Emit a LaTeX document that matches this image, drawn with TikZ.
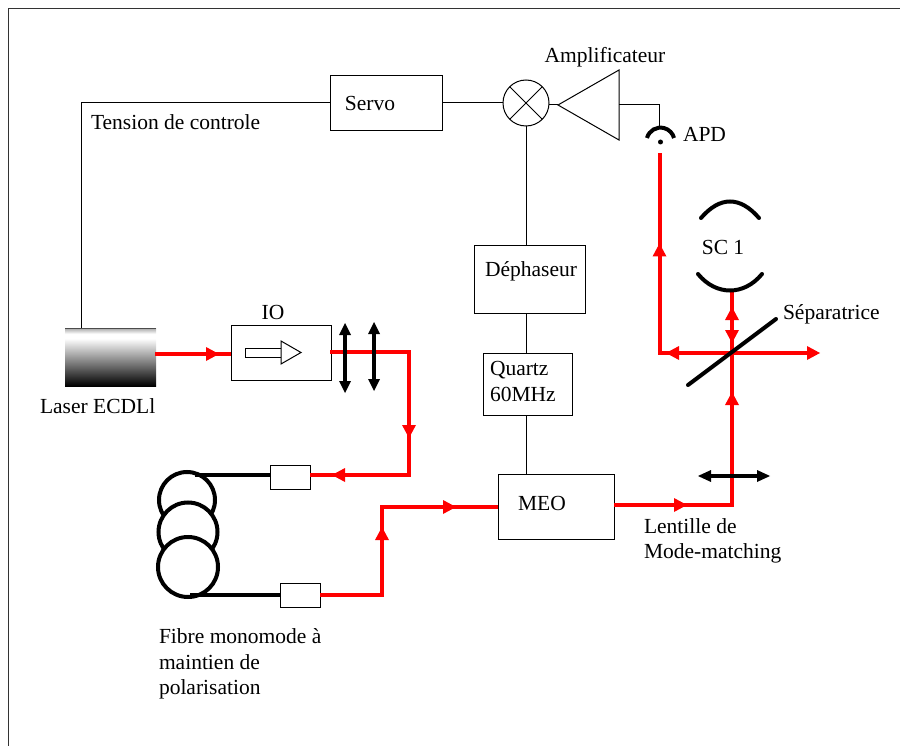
\documentclass[tikz,border=0pt]{standalone}
\usepackage{fontspec}
\setmainfont{Liberation Serif}
\usetikzlibrary{decorations.markings}
\pgfdeclareverticalshading{lasershade}{100bp}{color(0bp)=(black); color(25bp)=(black); color(66bp)=(white); color(70bp)=(white); color(75bp)=(black!35); color(100bp)=(black!35)}
\tikzset{
  x=1pt,y=-1pt,
  thin line/.style={draw=black,line width=1pt},
  boxnode/.style={draw=black,line width=1pt,fill=white,inner sep=0pt,outer sep=0pt,rectangle},
  lbl/.style={inner sep=0pt,outer sep=0pt,font=\fontsize{21.5}{25.2}\selectfont},
  lblleft/.style={lbl,anchor=west,align=left},
  beam/.style={draw=red,line width=4pt,line join=miter,line cap=butt},
  fibre/.style={draw=black,line width=4pt},
  tipat/.style={postaction={decorate,decoration={markings,mark=at position #1 with {\fill[red] (1,0) -- (-12,-7) -- (-12,7) -- cycle;}}}},
  lens/.style={draw=black,line width=3.5pt,shorten <=4pt,shorten >=4pt},
  mirror/.style={draw=black,line width=4pt,line cap=round},
}
\begin{document}
\begin{tikzpicture}
\useasboundingbox (0,0) rectangle (900,746);
% frame
\coordinate (fa) at (8,746); \coordinate (fb) at (8,9); \coordinate (fc) at (900,9);
\draw[line width=1pt,black!80] (fa) -- (fb) -- (fc);

% boxes
\node[boxnode,minimum width=112pt,minimum height=55pt] (servo) at (386,103.5) {};
\node[boxnode,minimum width=111pt,minimum height=67pt] (dephaseur) at (529.5,279.5) {};
\node[boxnode,minimum width=89pt,minimum height=62pt] (quartz) at (527.5,384) {};
\node[boxnode,minimum width=116pt,minimum height=65pt] (meo) at (556,506.5) {};
\node[boxnode,minimum width=100pt,minimum height=55pt] (io) at (281,352.5) {};
\node[circle,draw=black,line width=1pt,fill=white,minimum size=46pt,inner sep=0pt,outer sep=0pt] (mix) at (526,103) {};
\node[inner sep=0pt,outer sep=0pt,minimum width=91pt,minimum height=58pt,shading=lasershade] (laser) at (110.5,357) {};
\draw[line width=0.7pt,black!70] (laser.north west) -- (laser.north east);
\node[boxnode,minimum width=40pt,minimum height=24pt] (coupA) at (290,477) {};
\node[boxnode,minimum width=40pt,minimum height=24pt] (coupB) at (300,595) {};

% mixer cross
\draw[thin line] (mix.45) -- (mix.225);
\draw[thin line] (mix.135) -- (mix.315);

% amplifier
\coordinate (ampTip) at (558,105);
\coordinate (ampT) at (619,70);
\coordinate (ampB) at (619,140);
\coordinate (ampOut) at (619,105);
\draw[thin line] (ampTip) -- (ampT) -- (ampB) -- cycle;

% APD
\coordinate (apdTop) at (659.5,127.5);
\coordinate (apdDot) at (660.5,142);
\coordinate (apdBeam) at (659.5,153);
\draw[line width=4pt,black] (647,138) arc[start angle=195,end angle=345,radius=14];
\fill[black] (apdDot) circle[radius=2.5];

% thin connectors
\coordinate (ctrlCorner) at (81,103);
\draw[thin line] (servo.west |- ctrlCorner) -- (ctrlCorner) -- (ctrlCorner |- laser.north);
\draw[thin line] (servo.east |- mix.west) -- (mix.west);
\draw[thin line] (mix.east |- ampTip) -- (ampTip);
\draw[thin line] (ampOut) -- (apdTop |- ampOut) -- (apdTop);
\draw[thin line] (mix.south) -- (mix.south |- dephaseur.north);
\draw[thin line] (mix.south |- dephaseur.south) -- (mix.south |- quartz.north);
\draw[thin line] (mix.south |- quartz.south) -- (mix.south |- meo.north);

% isolator symbol
\coordinate (isoT) at (281,341);
\coordinate (isoB) at (281,364);
\coordinate (isoP) at (301,352.5);
\draw[thin line,fill=white] (245,348) rectangle (281,357);
\draw[thin line,fill=white] (isoT) -- (isoP) -- (isoB) -- cycle;

% fibre loops
\coordinate (loopA) at (195,475);
\coordinate (loopB) at (190,595);
\draw[fibre,fill=white] (187,500) circle[radius=28];
\draw[fibre,fill=white] (188,532) circle[radius=29.5];
\draw[fibre,fill=white] (188,567) circle[radius=30];
\draw[fibre] (loopA) -- (coupA.west |- loopA);
\draw[fibre] (loopB) -- (coupB.west |- loopB);

% beam coordinates
\coordinate (b1) at (155,354);
\coordinate (b2) at (330,352);
\coordinate (b3) at (409,352);
\coordinate (b4) at (409,475);
\coordinate (b5) at (382,595);
\coordinate (b6) at (382,507);
\coordinate (b7) at (732,505);
\coordinate (bs) at (732,353);
\coordinate (cav) at (732,290);
\coordinate (bsL) at (659.5,353);
\coordinate (out) at (808,353);

% beams
\draw[beam,tipat=63pt] (b1) -- (b1 -| io.west);
\draw[beam,tipat=164pt,tipat=278pt] (b2) -- (b3) -- (b4) -- (coupA.east |- b4);
\draw[beam,tipat=129pt,tipat=223pt] (coupB.east |- b5) -- (b5) -- (b6) -- (meo.west |- b6);
\draw[beam,tipat=72pt,tipat=230pt] (meo.east |- b7) -- (b7) -- (bs);
\draw[beam,tipat=45pt] (bs) -- (cav);
\draw[beam,tipat=52pt] (cav) -- (bs);
\draw[beam,tipat=65pt,tipat=181pt] (bs) -- (bsL) -- (apdBeam);
\draw[beam] (bs) -- (out);
\fill[red] (820,353) -- (807,346) -- (807,360) -- cycle;

% beam splitter
\coordinate (sa) at (688,385);
\coordinate (sb) at (776,319);
\draw[mirror] (sa) -- (sb);

% cavity mirrors
\coordinate (m1a) at (701,218); \coordinate (m1b) at (759,218);
\coordinate (m2a) at (698,274); \coordinate (m2b) at (762,274);
\draw[mirror] (m1a) .. controls (720,196) and (740,196) .. (m1b);
\draw[mirror] (m2a) .. controls (716,296) and (744,296) .. (m2b);

% lenses
\foreach \n/\xa/\ya/\xb/\yb in {la/345/323/345/393,lb/374/322/374/391}{
  \coordinate (\n1) at (\xa,\ya); \coordinate (\n2) at (\xb,\yb);
  \draw[lens] (\n1) -- (\n2);
  \fill[black] (\n1) -- (\xa-6,\ya+12) -- (\xa+6,\ya+12) -- cycle;
  \fill[black] (\n2) -- (\xb-6,\yb-12) -- (\xb+6,\yb-12) -- cycle;
}
\coordinate (lc1) at (698,476); \coordinate (lc2) at (770,476);
\draw[lens] (lc1) -- (lc2);
\fill[black] (lc1) -- (711,470) -- (711,482) -- cycle;
\fill[black] (lc2) -- (757,470) -- (757,482) -- cycle;

% labels
\node[lbl] (tServo) at (370,103) {Servo};
\node[lblleft] (tTension) at (91,122) {Tension de controle};
\node[lbl] (tAmp) at (605,57) {Amplificateur};
\node[lblleft] (tApd) at (683,134.5) {APD};
\node[lbl] (tSc) at (723,247) {SC 1};
\node[lblleft] (tSep) at (783,314.5) {Séparatrice};
\node[lbl] (tIo) at (273,312) {IO};
\node[lblleft] (tLaser) at (40,406) {Laser ECDLl};
\node[lbl] (tDep) at (531,271) {Déphaseur};
\node[lblleft] (tQuartz) at (490,381.5) {Quartz\\60MHz};
\node[lbl] (tMeo) at (542,503) {MEO};
\node[lblleft] (tLent) at (644,541) {Lentille de\\Mode-matching};
\node[lblleft] (tFibre) at (159,664) {Fibre monomode à\\maintien de\\polarisation};
\end{tikzpicture}
\end{document}
